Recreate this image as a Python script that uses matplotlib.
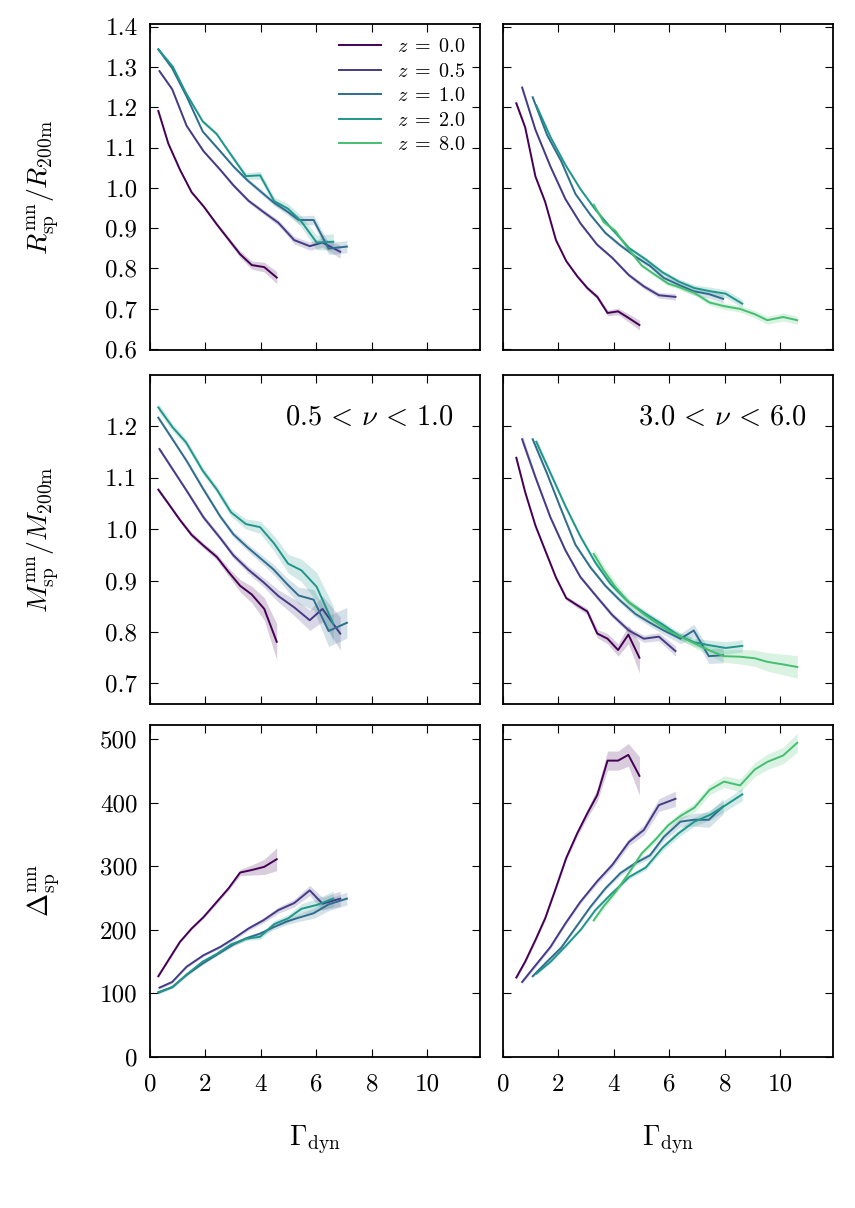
import numpy as np
import matplotlib
matplotlib.use("Agg")
import matplotlib.pyplot as plt
from matplotlib.lines import Line2D

plt.rcParams['font.family'] = 'serif'
plt.rcParams['font.serif'] = ['cmr10']
plt.rcParams['mathtext.fontset'] = 'cm'
plt.rcParams['axes.formatter.use_mathtext'] = True

z_labels = ['0.0', '0.5', '1.0', '2.0', '8.0']
colors = [plt.cm.viridis(v) for v in [0.0, 0.175, 0.35, 0.525, 0.7]]

# ---- low-nu bin (0.5 < nu < 1.0) ----
lo_z00_gam = [0.30, 0.66, 1.08, 1.50, 1.93, 2.41, 2.83, 3.25, 3.67, 4.12, 4.57]
lo_z00_R = [1.191, 1.110, 1.045, 0.989, 0.954, 0.909, 0.872, 0.835, 0.808, 0.803, 0.777]
lo_z00_M = [1.077, 1.050, 1.018, 0.989, 0.968, 0.946, 0.917, 0.890, 0.873, 0.845, 0.781]
lo_z00_D = [127, 152, 181, 202, 220, 244, 265, 290, 294, 299, 311]
lo_z00_eR = [0.004, 0.004, 0.004, 0.004, 0.004, 0.005, 0.006, 0.008, 0.010, 0.012, 0.015]
lo_z00_eM = [0.004, 0.004, 0.004, 0.005, 0.005, 0.006, 0.008, 0.012, 0.016, 0.022, 0.035]
lo_z00_eD = [2, 2, 2, 2, 2, 3, 3, 5, 8, 12, 18]

lo_z05_gam = [0.34, 0.80, 1.32, 1.93, 2.53, 3.01, 3.55, 4.09, 4.63, 5.20, 5.76, 6.22, 6.86]
lo_z05_R = [1.290, 1.245, 1.154, 1.091, 1.045, 1.006, 0.968, 0.940, 0.913, 0.870, 0.855, 0.864, 0.841]
lo_z05_M = [1.156, 1.118, 1.075, 1.023, 0.983, 0.949, 0.921, 0.897, 0.870, 0.848, 0.823, 0.845, 0.797]
lo_z05_D = [109, 118, 142, 160, 173, 186, 202, 215, 231, 242, 262, 241, 249]
lo_z05_eR = [0.004, 0.004, 0.004, 0.004, 0.004, 0.005, 0.005, 0.006, 0.007, 0.009, 0.010, 0.012, 0.016]
lo_z05_eM = [0.004, 0.004, 0.004, 0.005, 0.005, 0.006, 0.007, 0.009, 0.012, 0.016, 0.020, 0.025, 0.032]
lo_z05_eD = [2, 2, 2, 2, 2, 3, 3, 4, 5, 6, 8, 10, 12]

lo_z10_gam = [0.30, 0.80, 1.32, 1.90, 2.53, 3.01, 3.49, 3.97, 4.45, 4.93, 5.36, 5.90, 6.44, 7.10]
lo_z10_R = [1.344, 1.297, 1.227, 1.140, 1.091, 1.053, 1.020, 0.992, 0.964, 0.942, 0.920, 0.920, 0.849, 0.854]
lo_z10_M = [1.217, 1.176, 1.133, 1.080, 1.025, 0.990, 0.966, 0.944, 0.922, 0.894, 0.871, 0.863, 0.802, 0.818]
lo_z10_D = [101, 110, 129, 147, 164, 177, 187, 194, 204, 213, 219, 226, 240, 249]
lo_z10_eR = [0.004, 0.004, 0.004, 0.004, 0.004, 0.004, 0.005, 0.006, 0.007, 0.008, 0.010, 0.012, 0.015, 0.015]
lo_z10_eM = [0.004, 0.004, 0.004, 0.005, 0.005, 0.006, 0.007, 0.008, 0.010, 0.012, 0.016, 0.020, 0.030, 0.030]
lo_z10_eD = [2, 2, 2, 2, 2, 3, 3, 3, 4, 5, 6, 8, 10, 10]

lo_z20_gam = [0.30, 0.82, 1.30, 1.90, 2.40, 2.92, 3.46, 3.97, 4.48, 4.98, 5.46, 6.01, 6.61]
lo_z20_R = [1.344, 1.301, 1.235, 1.165, 1.134, 1.082, 1.029, 1.031, 0.967, 0.948, 0.916, 0.864, 0.866]
lo_z20_M = [1.237, 1.198, 1.169, 1.114, 1.078, 1.033, 1.010, 1.004, 0.972, 0.933, 0.920, 0.888, 0.816]
lo_z20_D = [102, 110, 129, 150, 162, 177, 186, 189, 209, 218, 233, 239, 249]
lo_z20_eR = [0.005, 0.005, 0.005, 0.005, 0.005, 0.006, 0.008, 0.010, 0.010, 0.012, 0.014, 0.018, 0.020]
lo_z20_eM = [0.008, 0.007, 0.007, 0.007, 0.007, 0.008, 0.010, 0.012, 0.015, 0.018, 0.022, 0.028, 0.035]
lo_z20_eD = [2, 2, 2, 2, 2, 3, 3, 4, 5, 6, 8, 10, 12]

# ---- high-nu bin (3.0 < nu < 6.0) ----
hi_z00_gam = [0.48, 0.80, 1.17, 1.52, 1.91, 2.28, 2.68, 3.04, 3.40, 3.77, 4.15, 4.52, 4.92]
hi_z00_R = [1.210, 1.150, 1.028, 0.965, 0.870, 0.818, 0.780, 0.751, 0.729, 0.689, 0.693, 0.677, 0.659]
hi_z00_M = [1.139, 1.072, 1.007, 0.959, 0.906, 0.866, 0.852, 0.840, 0.797, 0.787, 0.765, 0.795, 0.750]
hi_z00_D = [125, 150, 184, 218, 266, 313, 352, 383, 412, 466, 466, 475, 442]
hi_z00_eR = [0.006, 0.005, 0.004, 0.004, 0.004, 0.004, 0.004, 0.005, 0.006, 0.007, 0.008, 0.010, 0.012]
hi_z00_eM = [0.005, 0.004, 0.004, 0.004, 0.004, 0.004, 0.005, 0.006, 0.008, 0.010, 0.012, 0.018, 0.030]
hi_z00_eD = [3, 3, 3, 3, 3, 4, 5, 7, 10, 15, 15, 18, 30]

hi_z05_gam = [0.69, 1.17, 1.71, 2.25, 2.79, 3.39, 3.94, 4.54, 5.08, 5.62, 6.22]
hi_z05_R = [1.249, 1.144, 1.053, 0.972, 0.912, 0.859, 0.826, 0.783, 0.755, 0.733, 0.729]
hi_z05_M = [1.175, 1.101, 1.023, 0.959, 0.907, 0.868, 0.833, 0.803, 0.787, 0.791, 0.763]
hi_z05_D = [118, 144, 173, 210, 244, 276, 302, 338, 357, 396, 406]
hi_z05_eR = [0.008, 0.005, 0.004, 0.004, 0.004, 0.004, 0.004, 0.005, 0.006, 0.007, 0.008]
hi_z05_eM = [0.010, 0.006, 0.004, 0.004, 0.004, 0.004, 0.005, 0.006, 0.007, 0.008, 0.010]
hi_z05_eD = [3, 3, 3, 3, 3, 4, 5, 6, 8, 10, 12]

hi_z10_gam = [1.07, 1.59, 2.10, 2.61, 3.15, 3.69, 4.23, 4.78, 5.30, 5.80, 6.40, 6.88, 7.42, 7.94]
hi_z10_R = [1.225, 1.131, 1.066, 0.985, 0.933, 0.888, 0.857, 0.829, 0.806, 0.776, 0.757, 0.743, 0.736, 0.724]
hi_z10_M = [1.175, 1.108, 1.038, 0.970, 0.926, 0.890, 0.861, 0.835, 0.818, 0.803, 0.787, 0.803, 0.753, 0.755]
hi_z10_D = [127, 150, 172, 203, 236, 265, 289, 305, 317, 346, 370, 373, 373, 394]
hi_z10_eR = [0.004, 0.004, 0.004, 0.004, 0.004, 0.004, 0.005, 0.005, 0.006, 0.007, 0.008, 0.010, 0.010, 0.010]
hi_z10_eM = [0.004, 0.004, 0.004, 0.004, 0.004, 0.004, 0.005, 0.006, 0.007, 0.008, 0.010, 0.012, 0.014, 0.015]
hi_z10_eD = [2, 2, 2, 2, 3, 3, 4, 4, 5, 6, 8, 10, 12, 12]

hi_z20_gam = [1.20, 1.72, 2.25, 2.80, 3.33, 3.87, 4.55, 5.15, 5.75, 6.34, 6.90, 7.48, 8.03, 8.63]
hi_z20_R = [1.205, 1.125, 1.057, 0.996, 0.946, 0.902, 0.850, 0.822, 0.790, 0.767, 0.751, 0.743, 0.737, 0.712]
hi_z20_M = [1.170, 1.108, 1.045, 0.985, 0.935, 0.894, 0.857, 0.835, 0.815, 0.793, 0.780, 0.774, 0.769, 0.773]
hi_z20_D = [131, 150, 174, 200, 231, 255, 283, 298, 329, 352, 370, 381, 396, 413]
hi_z20_eR = [0.004, 0.004, 0.004, 0.004, 0.004, 0.004, 0.005, 0.005, 0.006, 0.006, 0.008, 0.010, 0.010, 0.010]
hi_z20_eM = [0.008, 0.006, 0.005, 0.005, 0.005, 0.005, 0.005, 0.006, 0.006, 0.007, 0.008, 0.010, 0.012, 0.012]
hi_z20_eD = [2, 2, 2, 2, 3, 3, 3, 4, 5, 6, 7, 8, 9, 10]

hi_z80_gam = [3.27, 3.63, 4.05, 4.50, 5.00, 5.50, 5.95, 6.40, 6.90, 7.45, 7.97, 8.55, 9.08, 9.53, 10.10, 10.61]
hi_z80_R = [0.958, 0.915, 0.893, 0.850, 0.807, 0.783, 0.762, 0.752, 0.739, 0.715, 0.706, 0.699, 0.686, 0.671, 0.679, 0.671]
hi_z80_M = [0.952, 0.920, 0.888, 0.860, 0.838, 0.819, 0.803, 0.791, 0.778, 0.764, 0.753, 0.752, 0.749, 0.742, 0.737, 0.732]
hi_z80_D = [215, 237, 259, 287, 320, 342, 364, 379, 392, 420, 433, 427, 452, 464, 474, 494]
hi_z80_eR = [0.006, 0.006, 0.006, 0.006, 0.005, 0.005, 0.005, 0.006, 0.006, 0.007, 0.008, 0.008, 0.009, 0.010, 0.010, 0.010]
hi_z80_eM = [0.010, 0.010, 0.010, 0.008, 0.007, 0.006, 0.006, 0.007, 0.008, 0.010, 0.012, 0.014, 0.016, 0.018, 0.020, 0.022]
hi_z80_eD = [4, 4, 4, 4, 4, 5, 5, 6, 7, 8, 9, 10, 11, 12, 13, 15]

low_series = [
    (0, lo_z00_gam, lo_z00_R, lo_z00_eR, lo_z00_M, lo_z00_eM, lo_z00_D, lo_z00_eD),
    (1, lo_z05_gam, lo_z05_R, lo_z05_eR, lo_z05_M, lo_z05_eM, lo_z05_D, lo_z05_eD),
    (2, lo_z10_gam, lo_z10_R, lo_z10_eR, lo_z10_M, lo_z10_eM, lo_z10_D, lo_z10_eD),
    (3, lo_z20_gam, lo_z20_R, lo_z20_eR, lo_z20_M, lo_z20_eM, lo_z20_D, lo_z20_eD),
]
high_series = [
    (0, hi_z00_gam, hi_z00_R, hi_z00_eR, hi_z00_M, hi_z00_eM, hi_z00_D, hi_z00_eD),
    (1, hi_z05_gam, hi_z05_R, hi_z05_eR, hi_z05_M, hi_z05_eM, hi_z05_D, hi_z05_eD),
    (2, hi_z10_gam, hi_z10_R, hi_z10_eR, hi_z10_M, hi_z10_eM, hi_z10_D, hi_z10_eD),
    (3, hi_z20_gam, hi_z20_R, hi_z20_eR, hi_z20_M, hi_z20_eM, hi_z20_D, hi_z20_eD),
    (4, hi_z80_gam, hi_z80_R, hi_z80_eR, hi_z80_M, hi_z80_eM, hi_z80_D, hi_z80_eD),
]

W, H = 855, 1208
fig = plt.figure(figsize=(W / 100, H / 100), dpi=100)

col_x = [150, 503]
col_w = 330
rows = [(24, 350), (375, 704), (725, 1057)]
axes = []
for (top, bot) in rows:
    row = []
    for cx in col_x:
        ax = fig.add_axes([cx / W, 1 - bot / H, col_w / W, (bot - top) / H])
        row.append(ax)
    axes.append(row)

ylims = [(0.597, 1.407), (0.66, 1.30), (0, 522)]
yticks = [np.arange(0.6, 1.41, 0.1), np.arange(0.7, 1.21, 0.1), np.arange(0, 501, 100)]

for c, series in enumerate([low_series, high_series]):
    for (k, g, R, eR, M, eM, D, eD) in series:
        col = colors[k]
        g = np.array(g)
        for r, (v, e) in enumerate([(R, eR), (M, eM), (D, eD)]):
            ax = axes[r][c]
            v = np.array(v, float)
            e = np.array(e, float)
            ax.fill_between(g, v - e, v + e, color=col, alpha=0.2, lw=0)
            ax.plot(g, v, color=col, lw=1.4)

for r in range(3):
    for c in range(2):
        ax = axes[r][c]
        ax.set_xlim(0, 11.9)
        ax.set_ylim(*ylims[r])
        ax.set_xticks([0, 2, 4, 6, 8, 10])
        ax.set_yticks(yticks[r])
        ax.tick_params(direction='in', top=True, right=True, length=6, width=0.8,
                       labelsize=18, pad=9)
        ax.tick_params(axis='x', pad=12)
        for s in ax.spines.values():
            s.set_linewidth(1.3)
        if r < 2:
            ax.tick_params(labelbottom=False)
        if c == 1:
            ax.tick_params(labelleft=False)
    if r < 2:
        fmt = lambda x, p: '%.1f' % x
    else:
        fmt = lambda x, p: '%d' % x
    axes[r][0].yaxis.set_major_formatter(matplotlib.ticker.FuncFormatter(fmt))
for c in range(2):
    axes[2][c].xaxis.set_major_formatter(matplotlib.ticker.FuncFormatter(lambda x, p: '%d' % x))

ylabels = [r'$R_{\rm sp}^{\rm mn}/R_{\rm 200m}$', r'$M_{\rm sp}^{\rm mn}/M_{\rm 200m}$',
           r'$\Delta_{\rm sp}^{\rm mn}$']
for r in range(3):
    axes[r][0].set_ylabel(ylabels[r], fontsize=20)
    axes[r][0].yaxis.set_label_coords(-0.27, 0.5)
for c in range(2):
    axes[2][c].set_xlabel(r'$\Gamma_{\rm dyn}$', fontsize=20)
    axes[2][c].xaxis.set_label_coords(0.5, -0.2)

axes[1][0].text(0.92, 0.87, r'$0.5\,<\,\nu\,<\,1.0$', transform=axes[1][0].transAxes,
                ha='right', va='center', fontsize=20.5)
axes[1][1].text(0.92, 0.87, r'$3.0\,<\,\nu\,<\,6.0$', transform=axes[1][1].transAxes,
                ha='right', va='center', fontsize=20.5)

handles = [Line2D([], [], color=colors[i], lw=1.4) for i in range(5)]
labels = [r'$z\;=\;%s$' % z for z in z_labels]
axes[0][0].legend(handles, labels, loc='upper right', frameon=False, fontsize=14.5,
                  handlelength=2.1, handletextpad=0.8, labelspacing=0.32,
                  borderaxespad=0.3)

fig.savefig('out.png', dpi=100)
